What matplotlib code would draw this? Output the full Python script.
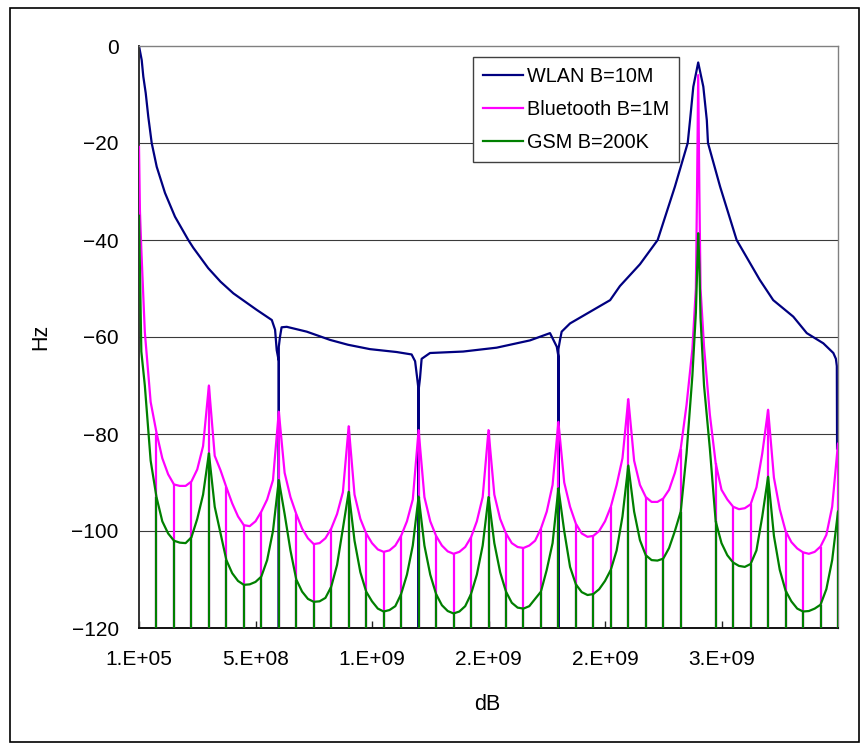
import numpy as np
import matplotlib
matplotlib.use("Agg")
import matplotlib.pyplot as plt
from matplotlib.patches import Rectangle

NULL_DB = -200.0  # spectral nulls (log of zero), drawn off the bottom of the axis

# WLAN B=10M: frequency (MHz) and level (dB)
wlan_freq = [0, 11.6, 18.5, 28.8, 39.9, 54.5, 76, 111.6, 154.5, 211.6, 233, 297, 350, 405,
             505, 570, 584, 591, 600, 600, 600, 605, 612, 634, 720, 820, 897, 991, 1106, 1170,
             1185, 1194, 1200, 1200, 1200, 1206, 1213, 1249, 1391, 1535, 1678, 1764, 1793,
             1800, 1800, 1800, 1807, 1814, 1850, 1893, 2022, 2064, 2150, 2226, 2300, 2355,
             2365, 2379, 2400, 2422, 2437, 2442, 2494, 2565, 2664, 2722, 2808, 2866, 2937,
             2980, 2991, 2995, 2996]
wlan_db = [0, -2.9, -6.3, -9.7, -14.6, -20, -24.9, -30.3, -35.2, -40, -41.6, -45.8, -48.6, -51,
           -54.4, -56.5, -58.5, -62.7, -65, NULL_DB, -62, -60, -58, -57.9, -58.9, -60.6, -61.6,
           -62.5, -63.1, -63.6, -65, -68.5, -71, NULL_DB, -71, -68.5, -64.5, -63.3, -63, -62.2,
           -60.7, -59.2, -62, -64, NULL_DB, -62.5, -60.6, -58.9, -57.2, -56, -52.4, -49.5, -45,
           -40, -29, -20, -15.3, -8.4, -3.4, -8.4, -15.3, -20, -29, -40, -48.2, -52.4, -55.8,
           -59.2, -61.3, -63.3, -64.5, -66, -83]

# Bluetooth / GSM sampled every 25 MHz from 0 to 3000 MHz
grid_freq = np.arange(0, 3001, 25)
bt_db = [-20.8, -59, -73.4, -79.7, -85, -88.3, -90.4, -90.7, -90.7, -89.8, -87.3, -82.5,
         -70, -84.5, -87.5, -91, -94.3, -97, -98.8, -99, -98, -96, -93.5, -89.5,
         -75.4, -88, -93, -96.5, -99.5, -101.5, -102.7, -102.5, -101.5, -99.5, -96.5, -92,
         -78.4, -92.5, -97.5, -100.5, -102.5, -103.8, -104.3, -104, -103, -101, -98, -93.5,
         -79.2, -93, -98, -101, -103, -104.2, -104.7, -104.3, -103.3, -101.3, -98, -93,
         -79.2, -92.5, -97.5, -100.5, -102.5, -103.3, -103.5, -103, -102, -99.5, -96, -90.5,
         -77.5, -90, -95, -98.5, -100.5, -101.2, -101, -100, -98, -95, -90.5, -85,
         -72.8, -85.5, -90.5, -93, -94, -94, -93.3, -91.5, -88, -83, -74, -62.5,
         -6, -62, -76, -86, -91.5, -93.5, -95, -95.5, -95.3, -94.5, -91, -84,
         -75, -89, -95.5, -100, -102.3, -103.6, -104.4, -104.7, -104.3, -103.2, -100.8, -95,
         -82]
gsm_db = [-35, -70, -85.5, -93, -98, -100.5, -102, -102.4, -102.5, -101.3, -97.5, -92.5,
          -84, -95, -100.5, -106, -108.7, -110.3, -111.1, -111, -110.5, -109.4, -106, -100,
          -89.5, -96.5, -104, -110, -112.5, -114, -114.6, -114.5, -113.8, -111.5, -107, -99.5,
          -91.9, -102, -108.5, -112.5, -114.5, -116, -116.6, -116.3, -115.5, -113, -109, -103,
          -92.9, -103, -109, -113, -115.3, -116.5, -117, -116.6, -115.5, -113, -109, -103,
          -93, -102.5, -108.5, -112.5, -114.8, -115.8, -116, -115.5, -114, -112.5, -108, -102.5,
          -91.2, -100, -107.4, -111, -112.6, -113.2, -113, -112, -110.3, -108, -104, -97,
          -86.5, -96, -101.9, -105, -106, -106.1, -105.7, -103.5, -100, -96, -84, -68,
          -38.6, -70, -83, -98, -102.5, -105, -106.5, -107.2, -107.4, -106.8, -104, -97,
          -88.8, -101, -108, -112.3, -114.5, -116, -116.6, -116.5, -116, -115.2, -112, -106,
          -96]

# a few extra samples at the left edge and around the 2.4 GHz carrier
extra_freq = [4, 10, 2390, 2395, 2405, 2410]
bt_extra = [-34, -42, -50, -30, -30, -50]
gsm_extra = [-46, -63, -55, -47, -45, -56]

# nulls every 75 MHz (none at the 2.4 GHz carrier)
null_freq = [f for f in range(75, 3001, 75) if f != 2400]

x_ticks = [0.1, 500, 1000, 1500, 2000, 2500]
x_ticklabels = ["1.E+05", "5.E+08", "1.E+09", "2.E+09", "2.E+09", "3.E+09"]
y_ticks = [0, -20, -40, -60, -80, -100, -120]


def merged(base_vals, extra_vals):
    f = np.concatenate([grid_freq, extra_freq])
    v = np.concatenate([base_vals, extra_vals])
    order = np.argsort(f, kind="stable")
    return f[order], v[order]


W, H = 863, 744
fig = plt.figure(figsize=(W / 100, H / 100), dpi=100)
ax = fig.add_axes([139 / W, 1 - 628 / H, (838 - 139) / W, (628 - 46) / H])

text_font = ["Liberation Sans", "DejaVu Sans"]

for y in y_ticks[1:-1]:
    ax.axhline(y, color="#3a3a3a", lw=0.8, zorder=1)

bt_f, bt_v = merged(bt_db, bt_extra)
gsm_f, gsm_v = merged(gsm_db, gsm_extra)
bt_arr = np.array(bt_db)
gsm_arr = np.array(gsm_db)
null_idx = [f // 25 for f in null_freq]

ax.plot(wlan_freq, wlan_db, color="#000080", lw=1.6, label="WLAN B=10M", zorder=2)
ax.plot(bt_f, bt_v, color="#FF00FF", lw=1.6, label="Bluetooth B=1M", zorder=3)
ax.vlines(null_freq, -120, bt_arr[null_idx], color="#FF00FF", lw=1.6, zorder=3)
ax.plot(gsm_f, gsm_v, color="#008000", lw=1.6, label="GSM B=200K", zorder=4)
ax.vlines(null_freq, -120, gsm_arr[null_idx], color="#008000", lw=1.6, zorder=4)

ax.set_xlim(0, 3000)
ax.set_ylim(-120, 0)
ax.set_xticks(x_ticks)
ax.set_xticklabels(x_ticklabels)
ax.set_yticks(y_ticks)
ax.tick_params(axis="x", direction="in", length=5, width=1, color="#222222", pad=16)
ax.tick_params(axis="y", length=0, pad=14.5)
for lab in ax.get_xticklabels() + ax.get_yticklabels():
    lab.set_family(text_font)
    lab.set_fontsize(15)

ax.spines["left"].set_color("#333333")
ax.spines["left"].set_linewidth(1.4)
ax.spines["bottom"].set_color("#111111")
ax.spines["bottom"].set_linewidth(1.4)
for s in ("top", "right"):
    ax.spines[s].set_color("#808080")
    ax.spines[s].set_linewidth(1.0)

leg = ax.legend(loc="upper left", bbox_to_anchor=(473 / W, 1 - 57 / H),
                bbox_transform=fig.transFigure, borderaxespad=0, fancybox=False,
                framealpha=1, edgecolor="#404040", handlelength=2.0,
                handletextpad=0.2, borderpad=0.5, labelspacing=0.7,
                prop={"family": text_font, "size": 14.3})
leg.get_frame().set_linewidth(1.0)
leg.set_zorder(10)

fig.text(41 / W, 1 - 337 / H, "Hz", rotation=90, ha="center", va="center",
         family=text_font, fontsize=15.5)
fig.text(487 / W, 1 - 705 / H, "dB", ha="center", va="center",
         family=text_font, fontsize=15.5)

fig.patches.append(Rectangle((9.5 / W, 1 - 741.5 / H), (858.5 - 9.5) / W, (741.5 - 7.5) / H,
                             transform=fig.transFigure, fill=False, edgecolor="black",
                             lw=1.2))

fig.savefig("out.png", dpi=100)
